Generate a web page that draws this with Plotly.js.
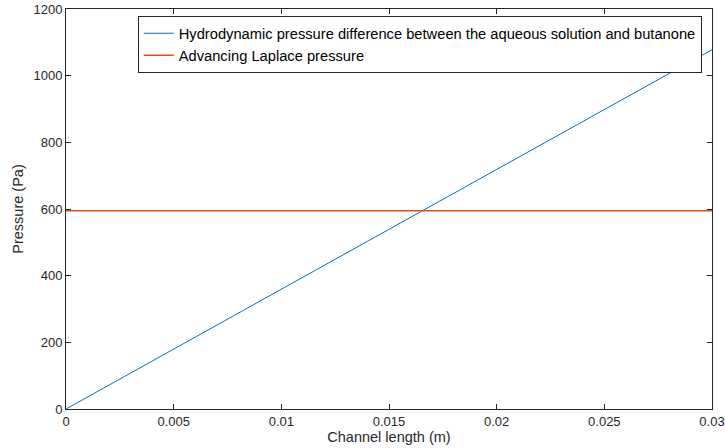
<!DOCTYPE html>
<html>
<head>
<meta charset="utf-8">
<script src="https://cdn.plot.ly/plotly-3.0.1.min.js"></script>
<style>html,body{margin:0;padding:0;background:#fff;}#chart{width:725px;height:448px;}</style>
</head>
<body>
<div id="chart"></div>
<script>
const channelLength = [0, 0.03];
const hydroPressure = [0, 1078];
const laplaceLength = [0, 0.03];
const laplacePressure = [595, 595];
const seriesNames = ["Hydrodynamic pressure difference between the aqueous solution and butanone", "Advancing Laplace pressure"];
const xTicks = [0, 0.005, 0.01, 0.015, 0.02, 0.025, 0.03];
const xTickText = ["0", "0.005", "0.01", "0.015", "0.02", "0.025", "0.03"];
const yTicks = [0, 200, 400, 600, 800, 1000, 1200];

const font = "Liberation Sans, Arial, Helvetica, sans-serif";
const traces = [
  {x: channelLength, y: hydroPressure, name: seriesNames[0], mode: "lines", line: {color: "#0072BD", width: 1}},
  {x: laplaceLength, y: laplacePressure, name: seriesNames[1], mode: "lines", line: {color: "#D95319", width: 1.5}}
];
const axisCommon = {
  showgrid: false, zeroline: false, showline: true, linecolor: "#262626", linewidth: 1,
  mirror: "ticks", ticks: "inside", ticklen: 5, tickcolor: "#262626",
  tickfont: {family: font, size: 13, color: "#262626"}
};
const layout = {
  width: 725, height: 448,
  margin: {l: 66, r: 13, t: 9, b: 39},
  paper_bgcolor: "#fff", plot_bgcolor: "#fff",
  showlegend: true,
  xaxis: Object.assign({}, axisCommon, {
    range: [0, 0.03], tickvals: xTicks, ticktext: xTickText,
    title: {text: "Channel length (m)", font: {family: font, size: 14.5, color: "#262626"}, standoff: 0}
  }),
  yaxis: Object.assign({}, axisCommon, {
    range: [0, 1200], tickvals: yTicks,
    title: {text: "Pressure (Pa)", font: {family: font, size: 14.5, color: "#262626"}, standoff: 6}
  }),
  legend: {
    x: 0.111, y: 0.982, xanchor: "left", yanchor: "top",
    bgcolor: "#fff", bordercolor: "#262626", borderwidth: 1,
    font: {family: font, size: 14.7, color: "#000"},
    tracegroupgap: 0, itemwidth: 30
  }
};
Plotly.newPlot("chart", traces, layout, {displayModeBar: false, staticPlot: true});
</script>
</body>
</html>
